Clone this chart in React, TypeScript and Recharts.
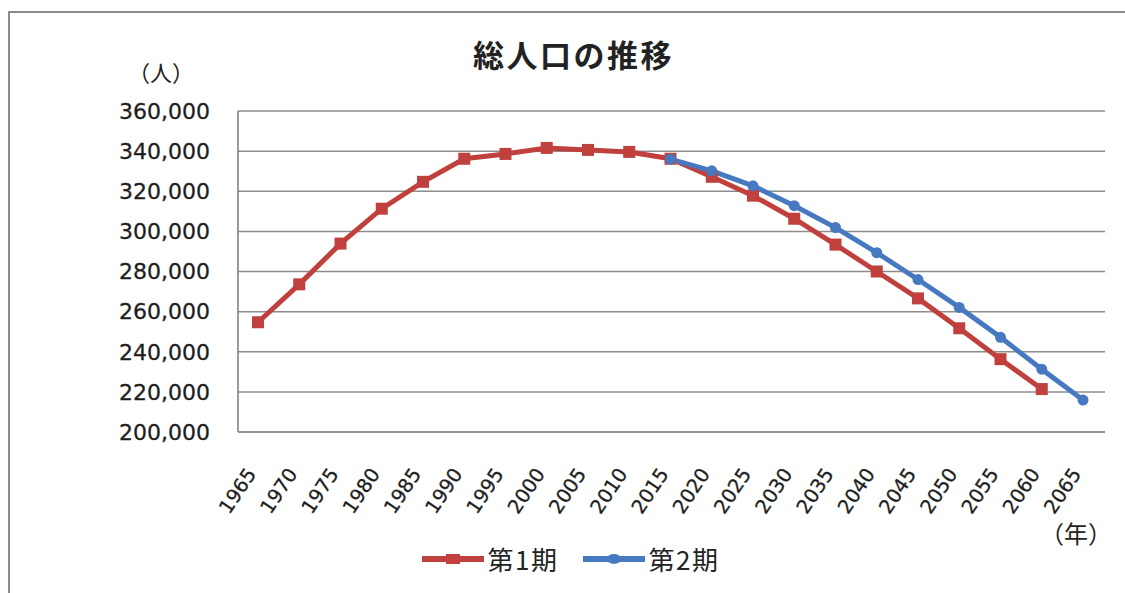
import React from 'react';
import { LineChart, Line, XAxis, YAxis, CartesianGrid, Legend } from 'recharts';

// 年（5年刻み）
const years = [
  '1965', '1970', '1975', '1980', '1985', '1990', '1995', '2000', '2005', '2010', '2015',
  '2020', '2025', '2030', '2035', '2040', '2045', '2050', '2055', '2060', '2065'
];

// 第1期 総人口
const period1 = [
  254700, 273600, 293900, 311300, 324700, 336200, 338600, 341600, 340600, 339600, 336200,
  327200, 317800, 306300, 293400, 280000, 266600, 251700, 236300, 221400, null
];

// 第2期 総人口（2015年以降）
const period2 = [
  null, null, null, null, null, null, null, null, null, null, 336000,
  330200, 322700, 312800, 301900, 289400, 276000, 262100, 247200, 231300, 215900
];

const yTicks = [200000, 220000, 240000, 260000, 280000, 300000, 320000, 340000, 360000];

const seriesNames = ['第1期', '第2期'];
const RED = '#C0403E';
const BLUE = '#4679C0';

const data = years.map((year, i) => ({ year, p1: period1[i], p2: period2[i] }));

const CJK = '"Noto Sans CJK JP", "Noto Sans", sans-serif';
const NUM = '"DejaVu Sans", sans-serif';

const YearTick = ({ x, y, payload }: { x?: number; y?: number; payload?: { value: string } }) => (
  <g transform={`translate(${(x || 0) - 1},${(y || 0) + 34})`}>
    <text
      textAnchor="end"
      transform="rotate(-56)"
      fontSize={19.5}
      fontFamily={NUM}
      fill="#1e1e1e"
      stroke="#1e1e1e"
      strokeWidth={0.3}
    >
      {payload?.value}
    </text>
  </g>
);

const SquareDot = ({ cx, cy }: { cx?: number; cy?: number }) => {
  if (cx == null || cy == null) return null;
  return <rect x={cx - 6} y={cy - 6} width={12} height={12} fill={RED} />;
};

const CircleDot = ({ cx, cy }: { cx?: number; cy?: number }) => {
  if (cx == null || cy == null) return null;
  return <circle cx={cx} cy={cy} r={5.5} fill={BLUE} />;
};

const CustomLegend = () => {
  const colors = [RED, BLUE];
  return (
    <div style={{ display: 'flex', justifyContent: 'center', alignItems: 'center', gap: 24, marginLeft: 16 }}>
      {seriesNames.map((name, i) => (
        <div key={name} style={{ display: 'flex', alignItems: 'center' }}>
          <svg width={62} height={14} style={{ marginRight: 4 }}>
            <line x1={1} y1={7} x2={61} y2={7} stroke={colors[i]} strokeWidth={6} strokeLinecap="round" />
            {i === 0 ? (
              <rect x={24} y={2} width={14} height={10} fill={colors[i]} />
            ) : (
              <ellipse cx={31} cy={7} rx={7} ry={5} fill={colors[i]} />
            )}
          </svg>
          <span style={{ fontFamily: CJK, fontSize: 26, color: '#222', letterSpacing: 1.5 }}>{name}</span>
        </div>
      ))}
    </div>
  );
};

const App: React.FC = () => {
  return (
    <div style={{ position: 'absolute', left: 0, top: 0, width: 1125, height: 593, background: '#fff', overflow: 'hidden' }}>
      <div
        style={{
          position: 'absolute', left: 8, top: 11, width: 1125, height: 600,
          borderTop: '2px solid #8a8a8a', borderLeft: '2px solid #8a8a8a'
        }}
      />
      <div
        style={{
          position: 'absolute', left: 0, width: 1147, top: 31, textAlign: 'center',
          fontFamily: CJK, fontSize: 31, fontWeight: 700, color: '#222', letterSpacing: 2.5
        }}
      >
        総人口の推移
      </div>
      <div style={{ position: 'absolute', left: 128, top: 55, fontFamily: CJK, fontSize: 22, color: '#222' }}>
        （人）
      </div>
      <div style={{ position: 'absolute', left: 1040, top: 515, fontFamily: CJK, fontSize: 24, color: '#222' }}>
        （年）
      </div>
      <div style={{ position: 'absolute', left: 0, top: 0 }}>
        <LineChart width={1125} height={593} data={data} margin={{ top: 111, right: 20, bottom: 101, left: 138 }}>
          <CartesianGrid vertical={false} stroke="#8c8c8c" strokeWidth={1.5} />
          <XAxis
            dataKey="year"
            height={60}
            interval={0}
            padding={{ left: 20, right: 22 }}
            axisLine={{ stroke: '#8c8c8c', strokeWidth: 1.5 }}
            tickLine={false}
            tick={<YearTick />}
          />
          <YAxis
            width={100}
            domain={[200000, 360000]}
            ticks={yTicks}
            interval={0}
            tickSize={0}
            tickMargin={28}
            tickLine={false}
            axisLine={{ stroke: '#7a7a7a', strokeWidth: 1.5 }}
            tickFormatter={(v: number) => v.toLocaleString('en-US')}
            tick={{ fontSize: 22, fontFamily: NUM, fill: '#1e1e1e', stroke: '#1e1e1e', strokeWidth: 0.3 }}
          />
          <Line
            name={seriesNames[0]}
            dataKey="p1"
            stroke={RED}
            strokeWidth={5}
            dot={<SquareDot />}
            activeDot={false}
            isAnimationActive={false}
          />
          <Line
            name={seriesNames[1]}
            dataKey="p2"
            stroke={BLUE}
            strokeWidth={5}
            dot={<CircleDot />}
            activeDot={false}
            isAnimationActive={false}
          />
          <Legend
            layout="horizontal"
            verticalAlign="middle"
            align="center"
            content={<CustomLegend />}
            wrapperStyle={{ top: 540, left: 0, width: 1125, height: 30 }}
          />
        </LineChart>
      </div>
    </div>
  );
};

export default App;
